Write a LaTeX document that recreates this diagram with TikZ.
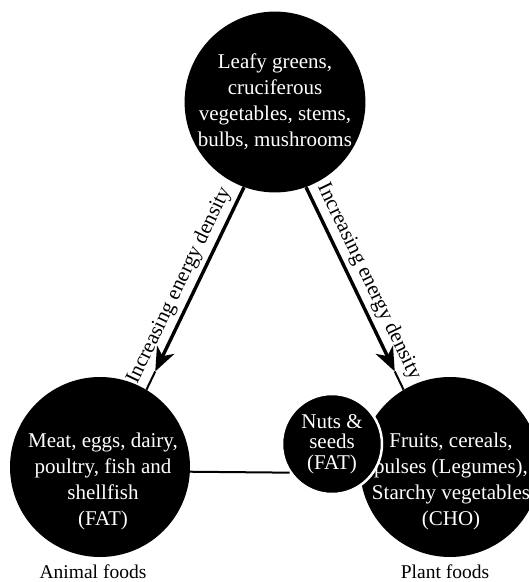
\documentclass[tikz,border=0pt]{standalone}
\usepackage{fontspec}
\setmainfont{Liberation Serif}
\usetikzlibrary{calc,arrows.meta}

\begin{document}
\begin{tikzpicture}[x=1pt,y=1pt,
		disc/.style={circle,fill=black,inner sep=0pt,text=white,align=center},
		txt/.style={text=white,align=center,font=\fontsize{21}{26}\selectfont},
		shaft/.style={line width=3.4pt,-{Stealth[length=24pt,width=19pt,inset=7pt]}},
		tail/.style={line width=2pt},
		energy/.style={sloped,above=1pt,pos=#1,font=\fontsize{21}{25}\selectfont},
		foods/.style={anchor=base,inner sep=0pt,font=\fontsize{19.5}{23}\selectfont}]
		\clip (0,0) rectangle (529,-582);
		\node[disc,minimum size=178pt,font=\fontsize{21}{26}\selectfont] (top) at (275,-102)
			{Leafy greens,\\cruciferous\\vegetables, stems,\\bulbs, mushrooms};
		\node[disc,minimum size=180pt] (animal) at (100,-467) {};
		\node[disc,minimum size=180pt] (plant) at (450,-467) {};
		\node[txt] (animaltxt) at (103,-481)
			{Meat, eggs, dairy,\\poultry, fish and\\shellfish\\(FAT)};
		\node[txt] (planttxt) at (451,-481)
			{Fruits, cereals,\\pulses (Legumes),\\Starchy vegetables\\(CHO)};
		\node[disc,draw=white,line width=2.5pt,minimum size=100pt,font=\fontsize{21}{20.5}\selectfont] (nuts) at (332,-444)
			{Nuts \&\\seeds\\(FAT)};
		\coordinate (ltip) at ($(top.250)!0.91!(animal.59)$);
		\coordinate (rtip) at ($(top.290)!0.91!(plant.121)$);
		\draw[shaft] (top.250) -- node[energy=0.57] (lenergy) {Increasing energy density} (ltip);
		\draw[tail] (ltip) -- (animal.59);
		\draw[shaft] (top.290) -- node[energy=0.55] (renergy) {Increasing energy density} (rtip);
		\draw[tail] (rtip) -- (plant.121);
		\draw[tail] (animal.-3) -- (nuts.214);
		\node[foods] (animallbl) at (93,-578) {Animal foods};
		\node[foods] (plantlbl) at (445,-578) {Plant foods};
	\end{tikzpicture}
\end{document}
